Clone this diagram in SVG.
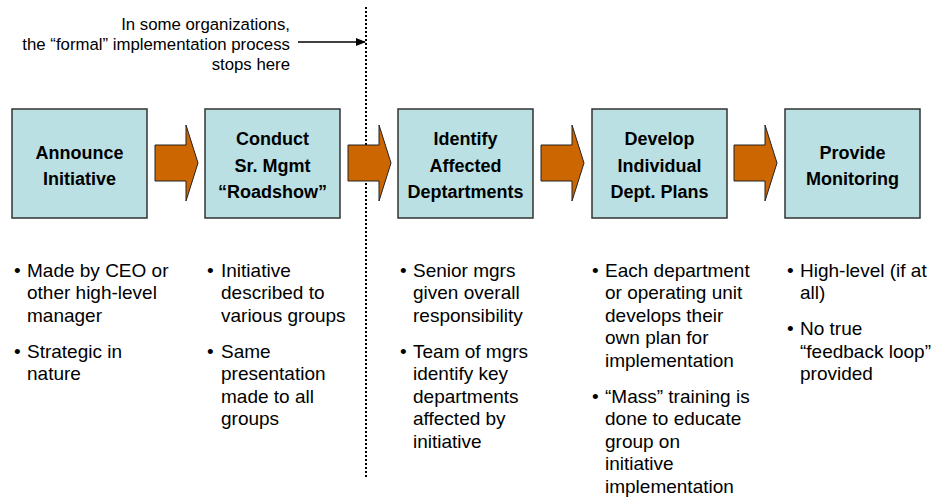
<svg xmlns="http://www.w3.org/2000/svg" width="939" height="501" viewBox="0 0 939 501">
  <defs>
    <style>
      .box { fill: #BBE0E3; stroke: #333333; stroke-width: 1.5; }
      .step { fill: #CC6600; stroke: #222222; stroke-width: 1; }
      .title { font-family: "Liberation Sans", Arial, sans-serif; font-size: 18px; font-weight: bold; fill: #000; text-anchor: middle; }
      .bullet { font-family: "Liberation Sans", Arial, sans-serif; font-size: 19px; fill: #000; }
      .note { font-family: "Liberation Sans", Arial, sans-serif; font-size: 16.8px; fill: #000; text-anchor: end; }
    </style>
    <marker id="arrowhead" markerWidth="10" markerHeight="10" refX="9" refY="5" orient="auto" markerUnits="userSpaceOnUse">
      <path d="M0,1 L10,5 L0,9 Z" fill="#000"/>
    </marker>
    <path id="block-arrow" d="M0,0 H31 V-20 L43,18 L31,56 V36 H0 Z"/>
  </defs>

  <rect width="939" height="501" fill="#FFFFFF"/>

  <!-- Cut-off annotation -->
  <g id="note">
    <text class="note" x="290" y="30">In some organizations,</text>
    <text class="note" x="290" y="50">the “formal” implementation process</text>
    <text class="note" x="290" y="70">stops here</text>
  </g>

  <!-- Connectors -->
  <g id="connectors">
    <line x1="366" y1="7" x2="366" y2="478" stroke="#000" stroke-width="2" stroke-dasharray="2,2"/>
    <line x1="298" y1="42" x2="365" y2="42" stroke="#000" stroke-width="1.5" marker-end="url(#arrowhead)"/>
    <use href="#block-arrow" class="step" x="155" y="145"/>
    <use href="#block-arrow" class="step" x="348" y="145"/>
    <use href="#block-arrow" class="step" x="541" y="145"/>
    <use href="#block-arrow" class="step" x="734" y="145"/>
  </g>

  <g id="announce">
    <rect class="box" x="12" y="109" width="135" height="109"/>
    <text class="title" x="79.5" y="158.5">Announce</text>
    <text class="title" x="79.5" y="185">Initiative</text>
    <text class="bullet" x="14" y="276.7">•</text>
    <text class="bullet" x="27" y="276.7">Made by CEO or</text>
    <text class="bullet" x="27" y="299.2">other high-level</text>
    <text class="bullet" x="27" y="321.7">manager</text>
    <text class="bullet" x="14" y="357.7">•</text>
    <text class="bullet" x="27" y="357.7">Strategic in</text>
    <text class="bullet" x="27" y="380.2">nature</text>
  </g>

  <g id="roadshow">
    <rect class="box" x="205" y="109" width="135" height="109"/>
    <text class="title" x="272.5" y="145">Conduct</text>
    <text class="title" x="272.5" y="171.5">Sr. Mgmt</text>
    <text class="title" x="272.5" y="198">“Roadshow”</text>
    <text class="bullet" x="207" y="276.7">•</text>
    <text class="bullet" x="221" y="276.7">Initiative</text>
    <text class="bullet" x="221" y="299.2">described to</text>
    <text class="bullet" x="221" y="321.7">various groups</text>
    <text class="bullet" x="207" y="357.7">•</text>
    <text class="bullet" x="221" y="357.7">Same</text>
    <text class="bullet" x="221" y="380.2">presentation</text>
    <text class="bullet" x="221" y="402.7">made to all</text>
    <text class="bullet" x="221" y="425.2">groups</text>
  </g>

  <g id="identify">
    <rect class="box" x="398" y="109" width="135" height="109"/>
    <text class="title" x="465.5" y="145">Identify</text>
    <text class="title" x="465.5" y="171.5">Affected</text>
    <text class="title" x="465.5" y="198">Deptartments</text>
    <text class="bullet" x="400" y="276.7">•</text>
    <text class="bullet" x="413" y="276.7">Senior mgrs</text>
    <text class="bullet" x="413" y="299.2">given overall</text>
    <text class="bullet" x="413" y="321.7">responsibility</text>
    <text class="bullet" x="400" y="357.7">•</text>
    <text class="bullet" x="413" y="357.7">Team of mgrs</text>
    <text class="bullet" x="413" y="380.2">identify key</text>
    <text class="bullet" x="413" y="402.7">departments</text>
    <text class="bullet" x="413" y="425.2">affected by</text>
    <text class="bullet" x="413" y="447.7">initiative</text>
  </g>

  <g id="develop">
    <rect class="box" x="592" y="109" width="135" height="109"/>
    <text class="title" x="659.5" y="145">Develop</text>
    <text class="title" x="659.5" y="171.5">Individual</text>
    <text class="title" x="659.5" y="198">Dept. Plans</text>
    <text class="bullet" x="592" y="276.7">•</text>
    <text class="bullet" x="605" y="276.7">Each department</text>
    <text class="bullet" x="605" y="299.2">or operating unit</text>
    <text class="bullet" x="605" y="321.7">develops their</text>
    <text class="bullet" x="605" y="344.2">own plan for</text>
    <text class="bullet" x="605" y="366.7">implementation</text>
    <text class="bullet" x="592" y="402.7">•</text>
    <text class="bullet" x="605" y="402.7">“Mass” training is</text>
    <text class="bullet" x="605" y="425.2">done to educate</text>
    <text class="bullet" x="605" y="447.7">group on</text>
    <text class="bullet" x="605" y="470.2">initiative</text>
    <text class="bullet" x="605" y="492.7">implementation</text>
  </g>

  <g id="monitoring">
    <rect class="box" x="785" y="109" width="135" height="109"/>
    <text class="title" x="852.5" y="158.5">Provide</text>
    <text class="title" x="852.5" y="185">Monitoring</text>
    <text class="bullet" x="787" y="276.7">•</text>
    <text class="bullet" x="800" y="276.7">High-level (if at</text>
    <text class="bullet" x="800" y="299.2">all)</text>
    <text class="bullet" x="787" y="335.2">•</text>
    <text class="bullet" x="800" y="335.2">No true</text>
    <text class="bullet" x="800" y="357.7">“feedback loop”</text>
    <text class="bullet" x="800" y="380.2">provided</text>
  </g>
</svg>
